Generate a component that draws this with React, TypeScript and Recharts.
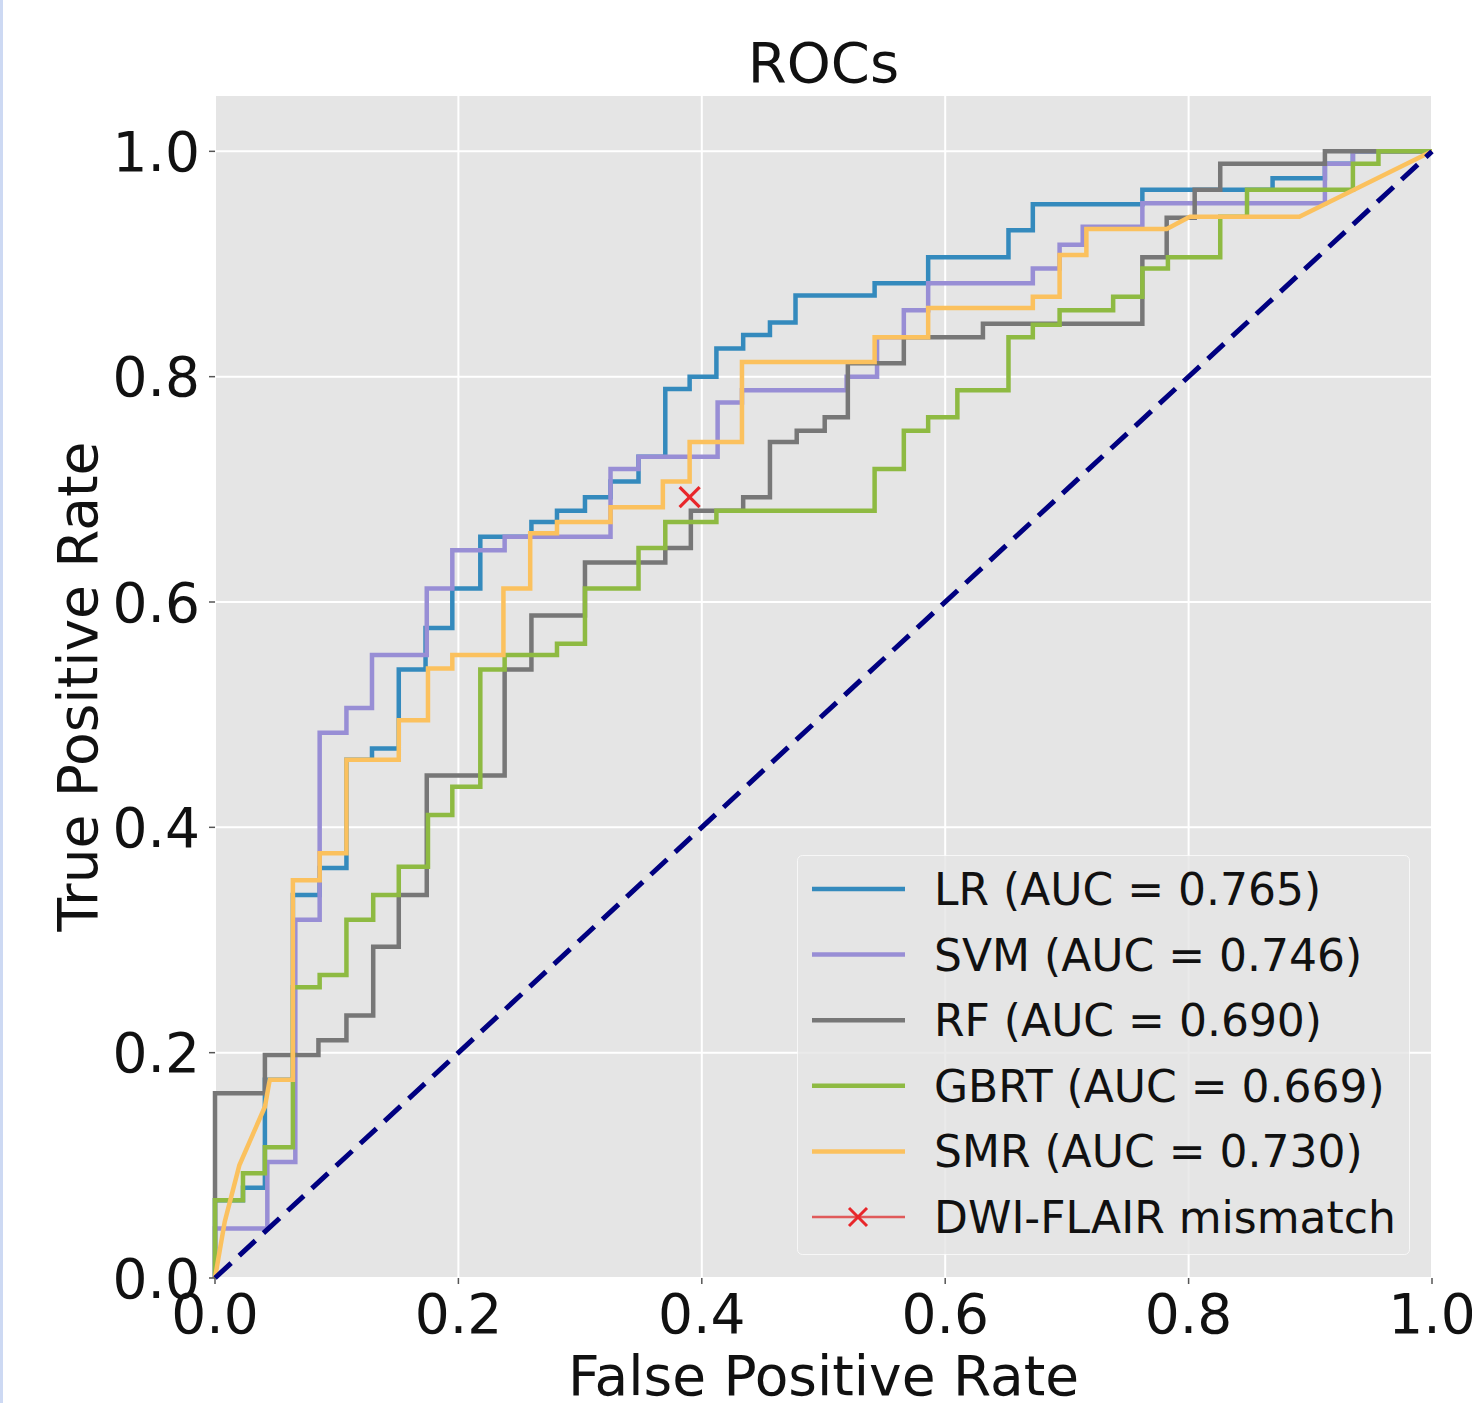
import React from 'react'
import { ComposedChart, Line, Scatter, XAxis, YAxis, CartesianGrid, Legend } from 'recharts'

const FONT = '"DejaVu Sans", "Liberation Sans", sans-serif'
const TICKS = [0, 0.2, 0.4, 0.6, 0.8, 1.0]

// ROC corner points: [fpr, tpr]
const LR_ROC = [
  [0, 0], [0, 0.069], [0.023, 0.069], [0.023, 0.08], [0.041, 0.08], [0.041, 0.176], [0.064, 0.176],
  [0.064, 0.34], [0.086, 0.34], [0.086, 0.364], [0.108, 0.364], [0.108, 0.46], [0.129, 0.46],
  [0.129, 0.47], [0.151, 0.47], [0.151, 0.54], [0.173, 0.54], [0.173, 0.577], [0.195, 0.577],
  [0.195, 0.612], [0.218, 0.612], [0.218, 0.658], [0.26, 0.658], [0.26, 0.671], [0.281, 0.671],
  [0.281, 0.681], [0.304, 0.681], [0.304, 0.693], [0.325, 0.693], [0.325, 0.707], [0.348, 0.707],
  [0.348, 0.729], [0.37, 0.729], [0.37, 0.789], [0.39, 0.789], [0.39, 0.8], [0.412, 0.8],
  [0.412, 0.825], [0.434, 0.825], [0.434, 0.837], [0.456, 0.837], [0.456, 0.848], [0.477, 0.848],
  [0.477, 0.872], [0.542, 0.872], [0.542, 0.883], [0.586, 0.883], [0.586, 0.906], [0.652, 0.906],
  [0.652, 0.93], [0.672, 0.93], [0.672, 0.953], [0.762, 0.953], [0.762, 0.966], [0.869, 0.966],
  [0.869, 0.976], [0.912, 0.976], [0.912, 0.989], [0.935, 0.989], [0.935, 1], [1, 1],
]
const SVM_ROC = [
  [0, 0], [0, 0.044], [0.043, 0.044], [0.043, 0.103], [0.066, 0.103], [0.066, 0.318], [0.086, 0.318],
  [0.086, 0.484], [0.108, 0.484], [0.108, 0.506], [0.129, 0.506], [0.129, 0.553], [0.174, 0.553],
  [0.174, 0.612], [0.195, 0.612], [0.195, 0.646], [0.238, 0.646], [0.238, 0.658], [0.325, 0.658],
  [0.325, 0.718], [0.348, 0.718], [0.348, 0.729], [0.413, 0.729], [0.413, 0.777], [0.433, 0.777],
  [0.433, 0.788], [0.519, 0.788], [0.519, 0.8], [0.544, 0.8], [0.544, 0.835], [0.566, 0.835],
  [0.566, 0.859], [0.586, 0.859], [0.586, 0.883], [0.672, 0.883], [0.672, 0.896], [0.694, 0.896],
  [0.694, 0.917], [0.713, 0.917], [0.713, 0.933], [0.762, 0.933], [0.762, 0.954], [0.912, 0.954],
  [0.912, 0.989], [0.935, 0.989], [0.935, 1], [1, 1],
]
const RF_ROC = [
  [0, 0], [0, 0.164], [0.041, 0.164], [0.041, 0.198], [0.085, 0.198], [0.085, 0.211], [0.108, 0.211],
  [0.108, 0.233], [0.13, 0.233], [0.13, 0.294], [0.151, 0.294], [0.151, 0.34], [0.174, 0.34],
  [0.174, 0.446], [0.238, 0.446], [0.238, 0.54], [0.26, 0.54], [0.26, 0.588], [0.304, 0.588],
  [0.304, 0.635], [0.37, 0.635], [0.37, 0.648], [0.391, 0.648], [0.391, 0.681], [0.434, 0.681],
  [0.434, 0.693], [0.456, 0.693], [0.456, 0.742], [0.478, 0.742], [0.478, 0.752], [0.501, 0.752],
  [0.501, 0.764], [0.52, 0.764], [0.52, 0.812], [0.566, 0.812], [0.566, 0.835], [0.631, 0.835],
  [0.631, 0.847], [0.762, 0.847], [0.762, 0.906], [0.782, 0.906], [0.782, 0.941], [0.805, 0.941],
  [0.805, 0.966], [0.826, 0.966], [0.826, 0.989], [0.912, 0.989], [0.912, 1], [1, 1],
]
const GBRT_ROC = [
  [0, 0], [0, 0.069], [0.023, 0.069], [0.023, 0.093], [0.041, 0.093], [0.041, 0.116], [0.064, 0.116],
  [0.064, 0.258], [0.086, 0.258], [0.086, 0.269], [0.108, 0.269], [0.108, 0.318], [0.13, 0.318],
  [0.13, 0.34], [0.151, 0.34], [0.151, 0.365], [0.175, 0.365], [0.175, 0.411], [0.195, 0.411],
  [0.195, 0.436], [0.218, 0.436], [0.218, 0.54], [0.238, 0.54], [0.238, 0.553], [0.281, 0.553],
  [0.281, 0.563], [0.304, 0.563], [0.304, 0.612], [0.348, 0.612], [0.348, 0.648], [0.37, 0.648],
  [0.37, 0.671], [0.412, 0.671], [0.412, 0.681], [0.542, 0.681], [0.542, 0.718], [0.566, 0.718],
  [0.566, 0.752], [0.586, 0.752], [0.586, 0.764], [0.61, 0.764], [0.61, 0.788], [0.652, 0.788],
  [0.652, 0.835], [0.672, 0.835], [0.672, 0.846], [0.694, 0.846], [0.694, 0.859], [0.738, 0.859],
  [0.738, 0.871], [0.762, 0.871], [0.762, 0.896], [0.783, 0.896], [0.783, 0.906], [0.826, 0.906],
  [0.826, 0.942], [0.848, 0.942], [0.848, 0.966], [0.935, 0.966], [0.935, 0.989], [0.956, 0.989],
  [0.956, 1], [1, 1],
]
const SMR_ROC = [
  [0, 0], [0.008, 0.05], [0.02, 0.1], [0.041, 0.152], [0.045, 0.176], [0.064, 0.176], [0.064, 0.353],
  [0.086, 0.353], [0.086, 0.377], [0.108, 0.377], [0.108, 0.46], [0.151, 0.46], [0.151, 0.495],
  [0.175, 0.495], [0.175, 0.541], [0.195, 0.541], [0.195, 0.553], [0.237, 0.553], [0.237, 0.612],
  [0.259, 0.612], [0.259, 0.661], [0.281, 0.661], [0.281, 0.671], [0.325, 0.671], [0.325, 0.684],
  [0.368, 0.684], [0.368, 0.707], [0.39, 0.707], [0.39, 0.742], [0.433, 0.742], [0.433, 0.813],
  [0.542, 0.813], [0.542, 0.835], [0.586, 0.835], [0.586, 0.861], [0.672, 0.861], [0.672, 0.871],
  [0.694, 0.871], [0.694, 0.908], [0.716, 0.908], [0.716, 0.931], [0.782, 0.931], [0.801, 0.942],
  [0.891, 0.942], [1, 1],
]
const CHANCE = [[0, 0], [1, 1]]
const MISMATCH = [[0.39, 0.693]]

const SERIES = [
  { name: 'LR (AUC = 0.765)', color: '#348ABD', roc: LR_ROC },
  { name: 'SVM (AUC = 0.746)', color: '#988ED5', roc: SVM_ROC },
  { name: 'RF (AUC = 0.690)', color: '#777777', roc: RF_ROC },
  { name: 'GBRT (AUC = 0.669)', color: '#8EBA42', roc: GBRT_ROC },
  { name: 'SMR (AUC = 0.730)', color: '#FBC15E', roc: SMR_ROC },
]
const MISMATCH_LABEL = 'DWI-FLAIR mismatch'

const toPoints = (pairs: number[][]) => pairs.map(([x, y]) => ({ x, y }))

const Cross = ({ cx, cy, r = 10, w = 3.2 }: { cx?: number; cy?: number; r?: number; w?: number }) => {
  if (cx == null || cy == null) return null
  return (
    <g stroke="#e8262a" strokeWidth={w}>
      <line x1={cx - r} y1={cy - r} x2={cx + r} y2={cy + r} />
      <line x1={cx - r} y1={cy + r} x2={cx + r} y2={cy - r} />
    </g>
  )
}

function LegendBox() {
  const rows = [...SERIES.map(s => s.name), MISMATCH_LABEL]
  return (
    <svg width={613} height={400} style={{ display: 'block' }}>
      <rect x={0.5} y={0.5} width={612} height={399} rx={5} fill="rgba(229,229,229,0.8)" stroke="rgba(255,255,255,0.7)" />
      {rows.map((label, i) => {
        const cy = 34 + i * 65.6
        const isMark = i === SERIES.length
        return (
          <g key={label}>
            {isMark ? (
              <>
                <line x1={15} x2={108} y1={cy} y2={cy} stroke="#e05a5a" strokeWidth={2.5} />
                <Cross cx={61} cy={cy} r={9} w={3} />
              </>
            ) : (
              <line x1={15} x2={108} y1={cy} y2={cy} stroke={SERIES[i].color} strokeWidth={4.5} />
            )}
            <text x={137} y={cy + 16} fontSize={44} fontFamily={FONT} fill="#111">{label}</text>
          </g>
        )
      })}
    </svg>
  )
}

export default function App() {
  const fmt = (v: number) => v.toFixed(1)
  return (
    <div style={{ position: 'absolute', left: 0, top: 0, width: 1472, height: 1403, background: '#fff' }}>
      <div style={{ position: 'absolute', left: 0, top: 0, width: 3, height: 1403, background: '#cdd9f3' }} />
      <ComposedChart width={1472} height={1403} margin={{ top: 95, right: 40, bottom: 0, left: 0 }}>
        <CartesianGrid fill="#E5E5E5" stroke="#ffffff" strokeWidth={2} />
        <XAxis
          type="number" dataKey="x" domain={[0, 1]} ticks={TICKS} tickFormatter={fmt}
          height={125} axisLine={false} tickSize={6} tickMargin={10}
          tickLine={{ stroke: '#555555', strokeWidth: 1.5 }}
          tick={{ fontSize: 55, fill: '#111', fontFamily: FONT }}
          label={{ value: 'False Positive Rate', position: 'insideBottom', offset: 8, fontSize: 55, fill: '#111', fontFamily: FONT }}
        />
        <YAxis
          type="number" dataKey="y" domain={[0, 1.05]} ticks={TICKS} tickFormatter={fmt}
          width={215} axisLine={false} tickSize={6} tickMargin={9}
          tickLine={{ stroke: '#555555', strokeWidth: 1.5 }}
          tick={{ fontSize: 55, fill: '#111', fontFamily: FONT }}
          label={{ value: 'True Positive Rate', angle: -90, position: 'insideLeft', offset: 77, fontSize: 55, fill: '#111', fontFamily: FONT, style: { textAnchor: 'middle' } }}
        />
        {SERIES.map(s => (
          <Line
            key={s.name} data={toPoints(s.roc)} dataKey="y" name={s.name} type="linear"
            stroke={s.color} strokeWidth={4.5} dot={false} activeDot={false} isAnimationActive={false}
          />
        ))}
        <Line
          data={toPoints(CHANCE)} dataKey="y" name="chance" type="linear" legendType="none"
          stroke="#000080" strokeWidth={5} strokeDasharray="22 11" dot={false} activeDot={false} isAnimationActive={false}
        />
        <Scatter data={toPoints(MISMATCH)} dataKey="y" name={MISMATCH_LABEL} shape={(p: any) => <Cross cx={p.cx} cy={p.cy} />} isAnimationActive={false} />
        <Legend
          layout="vertical" align="center" verticalAlign="middle"
          content={() => <LegendBox />}
          wrapperStyle={{ left: 797, top: 855, width: 613, height: 400 }}
        />
      </ComposedChart>
      <svg width={1472} height={100} style={{ position: 'absolute', left: 0, top: 0 }}>
        <text x={823.5} y={82} textAnchor="middle" fontSize={56} fontFamily={FONT} fill="#111">ROCs</text>
      </svg>
    </div>
  )
}
